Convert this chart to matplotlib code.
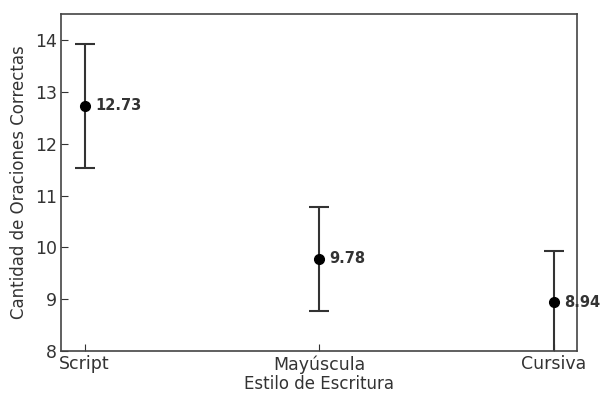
import matplotlib.pyplot as plt

estilos = ['Script', 'Mayúscula', 'Cursiva']
medias = [12.73, 9.78, 8.94]
errores = [1.2, 1.0, 1.0]

fig = plt.figure(figsize=(6, 3.94), dpi=100)
ax = fig.add_axes([0.102, 0.109, 0.860, 0.855])

x = range(len(estilos))
ax.errorbar(x, medias, yerr=errores, fmt='o', color='black', ecolor='#333333',
            elinewidth=1.5, capsize=7, capthick=1.5, markersize=7)

for xi, m in zip(x, medias):
    ax.annotate(f'{m:.2f}', (xi, m), xytext=(7.5, 0), textcoords='offset points',
                va='center', ha='left', fontsize=10.5, fontweight='bold', color='#333333',
                annotation_clip=False)

ax.set_xticks(list(x))
ax.set_xticklabels(estilos)
ax.set_xlim(-0.1, 2.1)
ax.set_ylim(8, 14.5)
ax.tick_params(direction='in', labelsize=12.5, colors='#333333', length=5, pad=3)
for s in ax.spines.values():
    s.set_color('#444444')
    s.set_linewidth(1.2)

ax.set_xlabel('Estilo de Escritura', fontsize=12, color='#333333', labelpad=1)
ax.set_ylabel('Cantidad de Oraciones Correctas', fontsize=12, color='#333333', labelpad=5)

fig.savefig('out.png', dpi=100)
